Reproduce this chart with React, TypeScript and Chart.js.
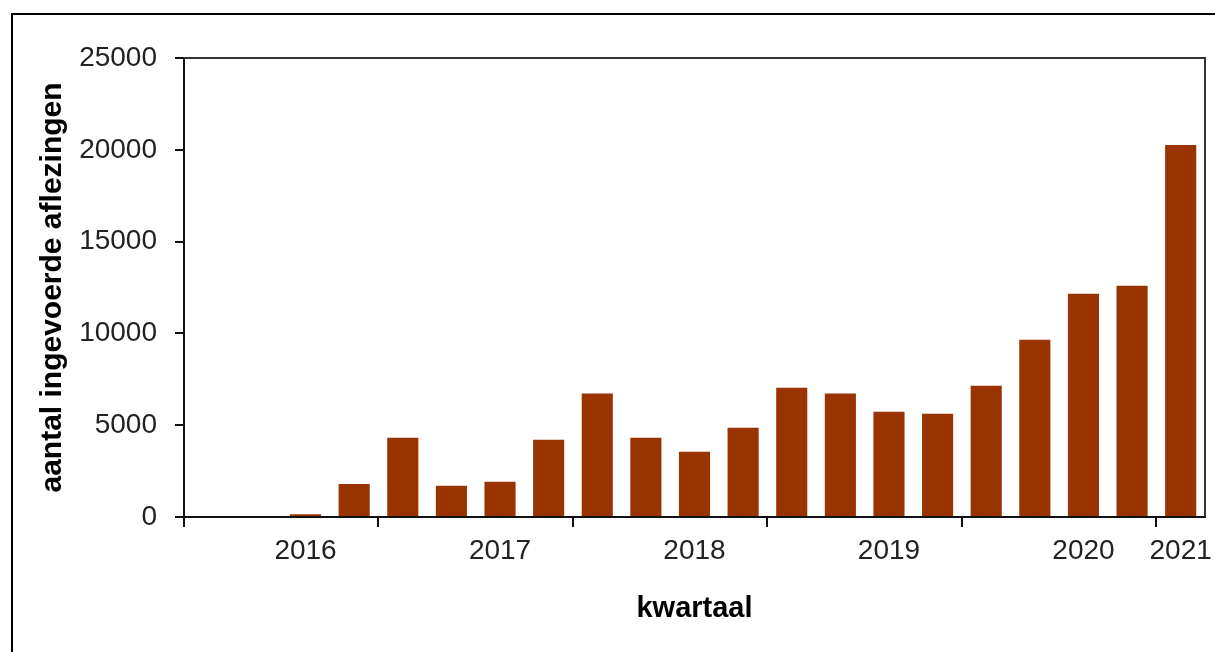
import React, { useEffect, useRef } from "react";
import { Chart, registerables } from "chart.js";

Chart.register(...registerables);

// 21 quarters: 2016 K1 .. 2021 K1
const quarters = [
  "2016 K1", "2016 K2", "2016 K3", "2016 K4",
  "2017 K1", "2017 K2", "2017 K3", "2017 K4",
  "2018 K1", "2018 K2", "2018 K3", "2018 K4",
  "2019 K1", "2019 K2", "2019 K3", "2019 K4",
  "2020 K1", "2020 K2", "2020 K3", "2020 K4",
  "2021 K1",
];

// aantal ingevoerde aflezingen per kwartaal
const readings = [
  0, 0, 150, 1800,
  4320, 1700, 1920, 4210,
  6720, 4320, 3560, 4860,
  7040, 6720, 5735, 5630,
  7150, 9660, 12160, 12600,
  20260,
];

// year labels shown under the x axis
const tickLabels = [
  "", "", "2016", "",
  "", "", "2017", "",
  "", "", "2018", "",
  "", "", "2019", "",
  "", "", "2020", "",
  "2021",
];

const yMin = 0;
const yMax = 25000;
const yStep = 5000;

const FONT = "'Liberation Sans', Arial, sans-serif";

const plotFrame = {
  id: "plotFrame",
  afterDatasetsDraw(chart: any) {
    const { ctx, chartArea: a } = chart;
    ctx.save();
    ctx.strokeStyle = "#333";
    ctx.lineWidth = 2;
    ctx.beginPath();
    ctx.moveTo(a.left, a.top);
    ctx.lineTo(a.right, a.top);
    ctx.lineTo(a.right, a.bottom);
    ctx.stroke();
    ctx.restore();
  },
};

export default function App() {
  const canvasRef = useRef<HTMLCanvasElement | null>(null);

  useEffect(() => {
    const canvas = canvasRef.current;
    if (!canvas) return;
    const chart = new Chart(canvas, {
      type: "bar",
      data: {
        labels: quarters,
        datasets: [
          {
            data: readings,
            backgroundColor: "#993300",
            borderWidth: 0,
            barPercentage: 0.64,
            categoryPercentage: 1,
          },
        ],
      },
      options: {
        responsive: false,
        maintainAspectRatio: false,
        animation: false,
        layout: { padding: { left: 0, top: 58, right: 10, bottom: 0 } },
        plugins: {
          legend: { display: false },
          tooltip: { enabled: false },
        },
        scales: {
          x: {
            offset: true,
            afterFit: (scale: any) => {
              scale.height = 135;
              scale.paddingLeft = 0;
              scale.paddingRight = 0;
            },
            grid: {
              offset: true,
              drawOnChartArea: false,
              drawTicks: true,
              tickLength: 10,
              lineWidth: 2,
              color: (ctx: any) =>
                typeof ctx.index === "number" && ctx.index % 4 === 0
                  ? "#111"
                  : "rgba(0,0,0,0)",
            },
            border: { display: true, color: "#111", width: 2 },
            ticks: {
              autoSkip: false,
              maxRotation: 0,
              minRotation: 0,
              padding: 7,
              color: "#222",
              font: { family: FONT, size: 28 },
              callback: (_v: any, i: number) => tickLabels[i],
            },
            title: {
              display: true,
              text: "kwartaal",
              color: "#000",
              font: { family: FONT, size: 29, weight: "bold" },
              padding: { top: 0, bottom: 26 },
            },
          },
          y: {
            min: yMin,
            max: yMax,
            afterFit: (scale: any) => {
              scale.width = 184;
              scale.paddingTop = 0;
              scale.paddingBottom = 0;
            },
            grid: {
              drawOnChartArea: false,
              drawTicks: true,
              tickLength: 9,
              lineWidth: 2,
              color: "#111",
            },
            border: { display: true, color: "#111", width: 2 },
            ticks: {
              stepSize: yStep,
              padding: 18,
              color: "#222",
              font: { family: FONT, size: 28 },
              callback: (v: any) => String(v),
            },
            title: {
              display: true,
              text: "aantal ingevoerde aflezingen",
              color: "#000",
              font: { family: FONT, size: 30, weight: "bold" },
              padding: { top: 35, bottom: 0 },
            },
          },
        },
      },
      plugins: [plotFrame],
    });
    return () => chart.destroy();
  }, []);

  return (
    <>
      <div
        style={{
          position: "fixed",
          left: 11,
          top: 13,
          width: 1204,
          height: 639,
          borderLeft: "2px solid #000",
          borderTop: "2px solid #000",
          boxSizing: "border-box",
        }}
      />
      <div style={{ position: "fixed", left: 0, top: 0, width: 1215, height: 652 }}>
        <canvas ref={canvasRef} width={1215} height={652} style={{ width: 1215, height: 652 }} />
      </div>
    </>
  );
}
